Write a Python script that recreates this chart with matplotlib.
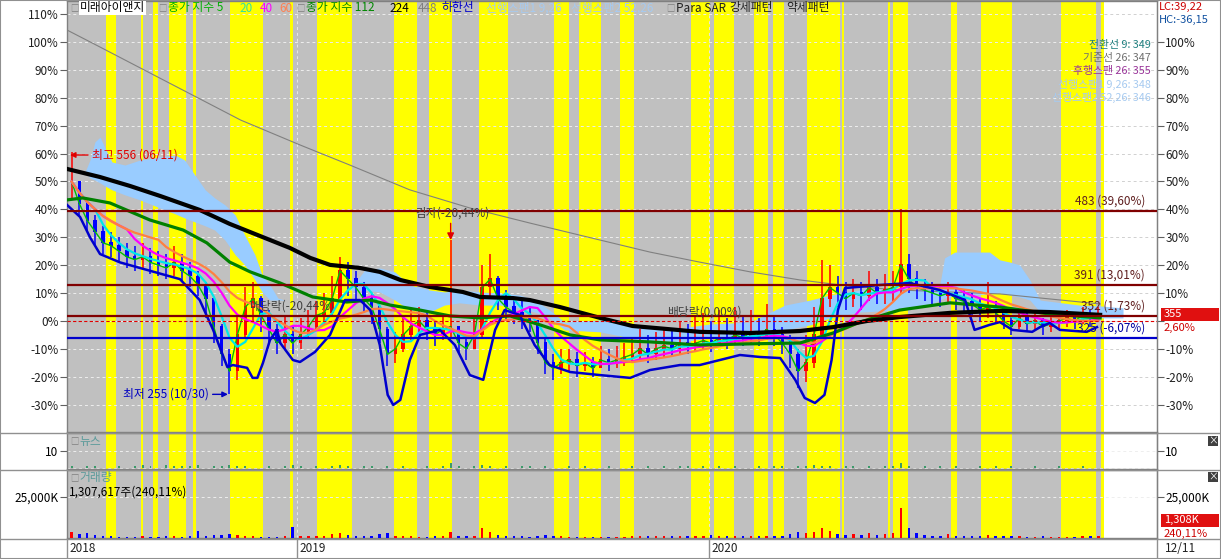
import matplotlib
matplotlib.use("Agg")
import matplotlib.pyplot as plt
import numpy as np
import pandas as pd
from matplotlib.lines import Line2D
from matplotlib.patches import Rectangle

plt.rcParams['font.family'] = ['Noto Sans CJK KR', 'DejaVu Sans']

W, H = 1221, 559
START = pd.Timestamp("2018-06-11")
BASE_PRICE = 346

# weekly candles, % against base price 346
week_dates = pd.date_range("2018-06-15", periods=131, freq="W-FRI")
close_pct = [50, 42, 36, 32, 28, 27, 25, 23, 22, 23,
             21, 20, 19, 21, 18, 16, 13, 8, -2, -12,
             -18, -5, 5, 8, 2, -3, -8, -5, -8, -5,
             -2, 2, 3, 8, 18, 15, 12, 8, 5, -3,
             -12, -10, -5, -2, 0, -3, -5, -3, -2, -8,
             -10, -5, 12, 15, 8, 5, 3, 2, 0, -8,
             -15, -17, -15, -14, -16, -15, -17, -14, -15, -14,
             -13, -12, -10, -12, -10, -9, -10, -8, -9, -8,
             -7, -8, -6, -7, -5, -6, -4, -6, -3, -5,
             -8, -12, -18, -15, -5, 8, 12, 10, 8, 10,
             9, 12, 10, 11, 12, 20, 15, 12, 11, 10,
             9, 10, 8, 7, 6, 4, 5, 3, 0, -2,
             1, -1, 0, -2, -1, 0, 1, 0, 2, 1,
             2.6]
high_pct = [60.7, 50, 43, 38, 34, 32, 30, 28, 27, 28,
            26, 25, 24, 27, 24, 21, 18, 14, 8, -1,
            -10, 2, 12, 14, 9, 4, -1, 2, -2, 1,
            4, 7, 10, 16, 23, 21, 18, 14, 10, 5,
            -2, -4, 1, 4, 5, 3, 0, 2, 29, -2,
            -5, 2, 20, 24, 16, 11, 8, 7, 5, 0,
            -6, -12, -10, -10, -11, -11, -13, -9, -10, -9,
            -8, -6, -3, -5, -4, -2, -3, 0, -1, 2,
            3, 0, 4, 1, 5, 2, 4, 1, 6, 2,
            -2, -5, -10, -5, 5, 22, 20, 16, 14, 15,
            14, 18, 15, 17, 18, 40, 24, 18, 15, 14,
            13, 14, 12, 11, 10, 8, 14, 7, 4, 2,
            4, 3, 3, 1, 2, 3, 4, 3, 5, 4,
            5]
low_pct = [44, 38, 32, 27, 24, 23, 21, 19, 18, 19,
           17, 16, 15, 16, 14, 12, 9, 1, -8, -16,
           -26.3, -21, -6, 0, -4, -8, -12, -10, -12, -10,
           -6, -3, -1, 2, 7, 9, 6, 3, -1, -8,
           -16, -15, -11, -7, -4, -7, -9, -7, -6, -12,
           -14, -10, -6, 8, 4, 0, -1, -3, -4, -12,
           -19, -21, -19, -18, -20, -18, -20, -17, -18, -17,
           -16, -15, -14, -15, -14, -13, -13, -12, -12, -11,
           -10, -11, -9, -10, -8, -9, -8, -9, -7, -9,
           -12, -17, -24, -22, -17, -7, 5, 5, 4, 5,
           4, 7, 6, 6, 7, 10, 10, 8, 7, 6,
           5, 6, 4, 3, 2, 0, 1, -1, -3, -5,
           -3, -4, -3, -5, -4, -3, -2, -3, -1, -2,
           0]
volume_k = [3500, 2500, 3000, 1800, 1200, 1000, 900, 800, 900, 1000,
            800, 900, 1000, 1200, 900, 1100, 4400, 1500, 1600, 1800,
            2500, 2000, 1500, 1200, 900, 800, 900, 1000, 7000, 1500,
            1200, 1000, 1500, 2500, 3000, 2000, 1500, 1200, 1500, 2500,
            3000, 1500, 1200, 1000, 900, 900, 1000, 1000, 3500, 1500,
            1200, 1500, 6000, 3500, 2000, 1500, 1200, 1000, 900, 1200,
            2000, 1500, 1000, 900, 800, 800, 900, 800, 800, 900,
            900, 1000, 1500, 1200, 1000, 1200, 1000, 1500, 1200, 1500,
            1200, 1800, 1500, 1200, 1500, 1200, 1000, 1200, 1500, 1200,
            1500, 2500, 3500, 3000, 3500, 6000, 4000, 2500, 2000, 2500,
            2000, 3000, 2000, 2500, 3000, 18000, 6000, 3000, 2000, 1500,
            1500, 2500, 1500, 1200, 1000, 1200, 2000, 1200, 1000, 1000,
            1000, 900, 900, 1000, 900, 800, 900, 800, 1000, 1000,
            1308]
news_cnt = [1, 0, 1, 1, 0, 0, 1, 0, 1, 2, 1, 0, 2, 1, 1, 1, 2, 0, 1, 1,
            2, 1, 1, 0, 0, 1, 0, 1, 2, 1, 0, 1, 0, 1, 2, 1, 0, 1, 1, 0,
            1, 0, 1, 0, 0, 1, 0, 1, 3, 1, 0, 1, 2, 1, 0, 1, 0, 1, 1, 0,
            1, 0, 0, 1, 0, 1, 0, 0, 1, 0, 0, 1, 0, 1, 0, 1, 0, 1, 1, 0,
            1, 0, 1, 0, 1, 0, 0, 1, 0, 1, 1, 0, 1, 1, 2, 1, 1, 0, 1, 1,
            0, 1, 0, 1, 1, 3, 1, 0, 1, 0, 1, 0, 1, 0, 0, 1, 0, 1, 0, 1,
            0, 0, 1, 0, 0, 1, 0, 0, 1, 0, 0]

# Para SAR strong-pattern periods (weeks since 2018-06-11)
strong_start = [4.94, 9.43, 10.89, 12.91, 15.95, 20.63, 28.2, 31.65, 41.39, 45.82,
                52.15, 61.65, 64.8, 70.0, 79.0, 81.9, 86.96, 89.37, 93.67, 98.1,
                103.9, 104.56, 111.9, 115.7, 125.8, 130.9]
strong_end = [6.18, 9.63, 11.52, 15.06, 16.33, 24.81, 28.63, 36.08, 44.3, 48.73,
              55.82, 63.5, 67.6, 71.77, 81.4, 84.4, 88.73, 90.76, 97.85, 98.35,
              104.2, 106.46, 112.66, 119.6, 130.25, 131.3]
data_end_wk = 131.3

# long moving averages (week, %)
ma112_wk = [0, 2.0, 5.44, 10.5, 14.7, 17.7, 20.6, 23.2, 27.0, 31.1, 35.4, 38.4, 40.9, 44.7,
            48.5, 52.3, 56.1, 59.9, 63.7, 67.5, 73.8, 80.1, 86.5, 92.8, 97.0, 100.4, 105.4,
            111.8, 118.1, 124.4, 130.8]
ma112_pct = [43.4, 44.1, 42.3, 36.2, 32.6, 28.0, 21.1, 17.6, 13.6, 8.6, 6.8, 7.5, 5.7, 3.9,
             1.8, 1.1, 1.8, -1.4, -5.0, -6.8, -7.5, -8.6, -8.2, -7.9, -4.3, -0.4, 3.9,
             6.5, 5.0, 2.5, 1.1]
ma224_wk = [0, 4.18, 7.97, 11.8, 16.8, 20.6, 24.4, 28.2, 30.8, 33.3, 37.1, 39.6, 42.2, 45.9,
            50.1, 52.3, 56.5, 58.6, 62.4, 67.5, 71.6, 80.1, 86.5, 92.8, 97.0, 101.3, 105.4,
            111.8, 118.1, 124.4, 130.8]
ma224_pct = [54.5, 51.6, 48.4, 44.8, 39.8, 34.8, 30.5, 26.2, 22.6, 20.1, 19.0, 17.6, 14.7, 12.2,
             10.4, 8.6, 8.2, 7.5, 5.0, 1.1, -1.8, -3.9, -4.3, -3.6, -2.2, 0.0, 1.4,
             2.9, 3.6, 3.2, 2.2]
ma448_wk = [0, 4.18, 10.5, 17.1, 22.0, 29.5, 35.8, 43.4, 51.0, 58.6, 67.5, 73.8, 80.1, 86.5,
            92.8, 99.1, 105.4, 111.8, 118.1, 124.4, 130.8]
ma448_pct = [104.3, 98.2, 88.9, 79.2, 72.0, 63.1, 55.9, 47.0, 40.5, 35.1, 29.0, 24.7, 21.1, 17.6,
             14.7, 12.5, 11.1, 10.4, 9.7, 7.9, 6.1]

# lower band (week, %)
low_band_wk = [0, 1.65, 2.91, 4.18, 6.71, 10.5, 14.3, 16.8, 18.5, 20.3, 21.0, 22.8, 23.5, 24.1,
               24.8, 25.7, 26.6, 27.0, 28.6, 29.5, 31.4, 33.3, 35.2, 37.1, 38.4, 39.6, 40.6,
               41.3, 42.2, 43.4, 44.7, 47.2, 49.1, 51.0, 52.7, 54.2, 55.4, 57.3, 59.2, 61.1,
               63.7, 67.5, 71.3, 73.8, 77.6, 80.1, 85.2, 87.7, 90.3, 92.2, 93.4, 94.7, 95.9,
               96.8, 97.6, 98.5, 102.9, 106.7, 110.5, 113.7, 114.9, 116.8, 118.1, 119.7,
               122.2, 123.2, 124.4, 125.7, 129.1, 130.4]
low_band_pct = [41.6, 37.3, 30.0, 24.0, 21.0, 18.0, 15.0, 7.5, -3.2, -16.5, -15.8, -16.8, -20.4,
                -20.4, -15.1, -6.8, -3.2, -7.9, -14.0, -14.7, -11.1, -5.0, 7.5, 7.5, 3.9, -8.6,
                -26.5, -30.1, -28.3, -14.0, -5.0, -3.2, -8.6, -19.4, -21.1, -3.2, 3.9, 2.2,
                -8.6, -15.8, -18.3, -19.4, -20.4, -17.6, -15.8, -15.8, -12.2, -12.9, -13.3,
                -21.1, -27.6, -29.4, -26.5, -14.0, 3.9, 11.8, 12.9, 13.6, 11.1, 7.5, -3.2,
                -1.4, -0.4, -3.2, -3.9, -2.2, -0.7, -3.2, -3.9, -2.2]

# leading span cloud (week, upper %, lower %)
cloud_wk = [2.28, 2.91, 3.54, 4.18, 4.81, 5.70, 7.34, 9.24, 11.8, 13.7, 14.9, 16.2, 17.5, 18.7,
            20.0, 21.3, 22.5, 23.8, 24.7, 25.7, 26.7, 27.6, 35.8, 37.7, 39.6, 41.5, 43.4,
            45.9, 47.8, 49.7, 52.3, 54.8, 57.3, 59.2, 61.1, 63.0, 67.5, 72.5, 77.6, 81.4,
            86.5, 90.9, 94.1, 96.6, 100.4, 105.4, 109.2, 110.5, 111.1, 112.4, 116.8, 118.1,
            119.4, 120.6, 121.9, 123.2, 128.2, 130.8, 133.7]
cloud_hi = [53.4, 57.7, 64.2, 65.9, 62.0, 57.0, 55.9, 57.7, 58.8, 59.5, 57.7, 52.3, 47.0, 44.1,
            41.6, 38.0, 30.8, 23.7, 16.5, 12.9, 8.2, 7.5, 11.1, 18.3, 19.0, 17.6, 12.9,
            11.1, 10.4, 11.1, 10.4, 10.0, 9.3, 7.5, 3.9, -0.4, 0.4, -1.4, -2.5, -1.1,
            -0.4, 5.7, 7.5, 9.3, 11.1, 11.8, 12.9, 12.9, 22.6, 24.7, 24.7, 21.9,
            21.1, 20.1, 14.7, 7.5, 5.7, 5.4, 4.7]
cloud_lo = [53.4, 51.3, 50.5, 49.5, 48.4, 47.0, 45.2, 43.4, 40.5, 38.4, 36.9, 35.5, 34.1, 32.6,
            29.0, 23.7, 20.1, 14.7, 10.4, 7.5, 7.5, 7.5, 11.1, 11.1, 10.4, 7.5, 3.9,
            3.2, 5.7, 6.5, 5.7, 5.7, 4.7, 3.2, 1.1, -3.2, -3.9, -6.8, -7.5, -6.1,
            -5.4, -3.2, -1.4, 1.1, 3.2, 3.9, 5.7, 7.5, 8.2, 9.0, 9.7, 10.0,
            9.3, 8.6, 7.5, 3.2, 1.8, 1.1, 1.1]

# horizontal price levels
red_levels = [483, 391, 352]
blue_levels = [325]

# event markers: (candle index, label)
event_idx = [48]
event_text = ["감자(-20,44%)"]

GRAY_BG = "#C0C0C0"
YELLOW = "#FFFF00"
RED = "#E00000"
DARKRED = "#800000"


def fx(px):
    return px / W


def fy(py):
    return 1 - py / H


fig = plt.figure(figsize=(W / 100, H / 100), dpi=100)
fig.patch.set_facecolor("white")

L, R = 67, 1157
ax = fig.add_axes([fx(L), fy(432), fx(R) - fx(L), fy(1) - fy(432)])
axn = fig.add_axes([fx(L), fy(469), fx(R) - fx(L), fy(433) - fy(469)])
axv = fig.add_axes([fx(L), fy(538), fx(R) - fx(L), fy(470) - fy(538)])

wk = np.asarray((week_dates - START).days) / 7.0
x_max = 138.0

for a in (ax, axn, axv):
    a.set_facecolor("white")
    a.set_xlim(0, x_max)
    a.axvspan(0, data_end_wk, color=GRAY_BG, zorder=0, lw=0)
    for s0, s1 in zip(strong_start, strong_end):
        a.axvspan(s0, s1, color=YELLOW, zorder=0.1, lw=0)
    for sp in a.spines.values():
        sp.set_color("#808080")
        sp.set_linewidth(1)
    a.set_xticks([])

# year dividers (dashed)
year_wk = [(pd.Timestamp(f"{y}-01-01") - START).days / 7 for y in (2019, 2020)]
for a in (ax, axn, axv):
    for yw in year_wk:
        a.axvline(yw, color="#E8E8E8", lw=0.7, ls=(0, (3, 3)), zorder=0.5)

# ---- main panel ----
ax.set_ylim(-39.8, 114.7)
grid_levels = np.arange(-30, 111, 10)
ax.hlines(grid_levels, 0, data_end_wk, colors="#EEEEEE", lw=0.7, linestyles=(0, (3, 3)), zorder=0.5)
ax.hlines(grid_levels, data_end_wk, x_max, colors="#D0D0D0", lw=0.7, linestyles=(0, (3, 3)), zorder=0.5)

ax.fill_between(cloud_wk, cloud_lo, cloud_hi, color="#99CCFF", lw=0, zorder=1)
ax.plot(ma448_wk, ma448_pct, color="#808080", lw=0.8, zorder=2)

close = np.array(close_pct, dtype=float)
open_ = np.r_[close[0], close[:-1]]
up = close >= open_
cols = np.where(up, "#FF0000", "#0000FF")
ax.vlines(wk, low_pct, high_pct, colors=cols, lw=1.1, zorder=3)
ax.bar(wk, np.abs(close - open_) + 0.3, bottom=np.minimum(close, open_), width=0.45,
       color=cols, lw=0, zorder=3)

s = pd.Series(close)
ax.plot(wk, s, color="#00C000", lw=1, zorder=4)
ax.plot(wk, s.rolling(4, min_periods=1).mean(), color="#00E8E8", lw=1.6, zorder=4)
ax.plot(wk, s.rolling(8, min_periods=1).mean(), color="#FF00FF", lw=1.6, zorder=4)
ax.plot(wk, s.rolling(12, min_periods=1).mean(), color="#FF8040", lw=1.6, zorder=4)
ax.plot(ma112_wk, ma112_pct, color="#008000", lw=2.3, zorder=5)
ax.plot(low_band_wk, low_band_pct, color="#0000CC", lw=1.8, zorder=5)
ax.plot(ma224_wk, ma224_pct, color="black", lw=3, zorder=6)

# price levels
ax.axhline(0, color=RED, lw=0.8, ls=(0, (3, 2)), zorder=6)
for p in red_levels:
    v = (p / BASE_PRICE - 1) * 100
    ax.axhline(v, color=DARKRED, lw=1.6, zorder=7)
    ax.text(136.5, v + 1.2, f"{p} ({v:.2f}%)".replace(".", ","), ha="right", va="bottom",
            fontsize=8.5, color="#602020", zorder=8)
for p in blue_levels:
    v = (p / BASE_PRICE - 1) * 100
    ax.axhline(v, color="#0000CC", lw=1.6, zorder=7)
    ax.text(136.5, v + 1.2, f"{p} ({v:.2f}%)".replace(".", ","), ha="right", va="bottom",
            fontsize=8.5, color="#0000A0", zorder=8)

# highest / lowest markers
i_hi = int(np.argmax(high_pct))
i_lo = int(np.argmin(low_pct))
hi_price = round(BASE_PRICE * (1 + high_pct[i_hi] / 100))
lo_price = round(BASE_PRICE * (1 + low_pct[i_lo] / 100))
ax.annotate(f"최고 {hi_price} ({week_dates[i_hi] - pd.Timedelta(days=4):%m/%d})",
            xy=(wk[i_hi] - 0.2, high_pct[i_hi] - 1.2), xytext=(16, 0), textcoords="offset points",
            ha="left", va="center", fontsize=8.5, color=RED, zorder=9,
            arrowprops=dict(arrowstyle="-|>", color=RED, lw=1, mutation_scale=8, shrinkA=1, shrinkB=0))
ax.annotate(f"최저 {lo_price} ({week_dates[i_lo] - pd.Timedelta(days=3):%m/%d})",
            xy=(wk[i_lo] - 0.2, low_pct[i_lo]), xytext=(-14, 0), textcoords="offset points",
            ha="right", va="center", fontsize=8.5, color="#0000C0", zorder=9,
            arrowprops=dict(arrowstyle="-|>", color="#0000C0", lw=1, mutation_scale=8, shrinkA=1, shrinkB=0))

for i, t in zip(event_idx, event_text):
    ax.annotate("", xy=(wk[i], high_pct[i]), xytext=(wk[i], high_pct[i] + 6),
                arrowprops=dict(arrowstyle="-|>", color=RED, lw=1, mutation_scale=10, shrinkA=0, shrinkB=0),
                zorder=9)
    ax.text(wk[i] + 0.3, high_pct[i] + 7.2, t, ha="center", va="bottom", fontsize=8.5,
            color="#404040", zorder=9)
ax.text(23.0, 5.5, "배당락(-20,44%)", ha="left", va="center", fontsize=8.5, color="#404040", zorder=5.5)
ax.text(76.0, 3.3, "배당락(0,00%)", ha="left", va="center", fontsize=8.5, color="#404040", zorder=9)

ax.set_yticks(grid_levels)
ax.set_yticklabels([f"{v}%" for v in grid_levels], fontsize=8.5)
ax.tick_params(axis="y", length=5, color="#606060", pad=1, labelcolor="#202020")
right_levels = np.arange(-30, 101, 10)
sec = ax.secondary_yaxis("right")
sec.set_yticks(right_levels)
sec.set_yticklabels(["" if v == 0 else f"{v}%" for v in right_levels], fontsize=8.5)
sec.tick_params(axis="y", length=5, color="#606060", pad=1, labelcolor="#202020")
sec.spines["right"].set_color("#808080")

# ---- news panel ----
axn.set_ylim(-0.6, 20.6)
axn.hlines([0, 10], 0, x_max, colors="#EEEEEE", lw=0.7, linestyles=(0, (3, 3)), zorder=0.5)
axn.bar(wk, news_cnt, width=0.25, color="#3C9A6A", zorder=3)
axn.set_yticks([10])
axn.set_yticklabels(["10"], fontsize=8.5)
axn.tick_params(axis="y", length=5, color="#606060", pad=1)
secn = axn.secondary_yaxis("right")
secn.set_yticks([10])
secn.set_yticklabels(["10"], fontsize=8.5)
secn.tick_params(axis="y", length=5, color="#606060", pad=1)

# ---- volume panel ----
axv.set_ylim(0, 41460)
axv.hlines([0, 25000], 0, x_max, colors="#EEEEEE", lw=0.7, linestyles=(0, (3, 3)), zorder=0.5)
axv.bar(wk, volume_k, width=0.3, color=cols, zorder=3)
axv.set_yticks([25000])
axv.set_yticklabels(["25,000K"], fontsize=8.5)
axv.tick_params(axis="y", length=5, color="#606060", pad=1)
secv = axv.secondary_yaxis("right")
secv.set_yticks([25000])
secv.set_yticklabels(["25,000K"], fontsize=8.5)
secv.tick_params(axis="y", length=5, color="#606060", pad=1)


def ftext(px, py, s, **kw):
    kw.setdefault("fontsize", 8.5)
    kw.setdefault("va", "center")
    return fig.text(fx(px), fy(py), s, **kw)


# top legend
legend_items = [
    (70, "□", "#808080"), (80, "미래아이앤지", "black"),
    (158, "□", "#808080"), (168, "종가 지수 5", "#00B000"), (239, "20", "#33E0A0"),
    (260, "40", "#FF00FF"), (279, "60", "#FF7F50"),
    (296, "□", "#808080"), (306, "종가 지수 112", "#008800"), (389, "224", "black"),
    (418, "448", "#808080"), (441, "하한선", "#0000CC"),
    (486, "선행스팬1 9,26", "#A6CAF0"), (571, "선행스팬2 52,26", "#A6CAF0"),
    (666, "□", "#808080"), (676, "Para SAR", "#202020"), (729, "강세패턴", "#202020"),
    (786, "약세패턴", "#202020"),
]
for px, t, c in legend_items:
    kw = {}
    if t == "미래아이앤지":
        kw["bbox"] = dict(facecolor="white", edgecolor="none", pad=0.5)
    if t == "□":
        kw["fontsize"] = 6
    ftext(px, 8, t, color=c, **kw)

# ichimoku values (right top)
ichi = [("전환선 9: 349", "#208080"), ("기준선 26: 347", "#707070"),
        ("후행스팬 26: 355", "#993399"), ("선행스팬1 9,26: 348", "#A6CAF0"),
        ("선행스팬2 52,26: 346", "#A6CAF0")]
for k, (t, c) in enumerate(ichi):
    ftext(1151, 45 + 13 * k, t, color=c, ha="right", fontsize=7.8)

ftext(1159, 7, "LC:39,22", color="#CC0000", fontsize=8)
ftext(1159, 20, "HC:-36,15", color="#1050A0", fontsize=8)

# current price box
fig.patches.append(Rectangle((fx(1161), fy(321)), fx(58), 13 / H, transform=fig.transFigure,
                             facecolor="#E01010", edgecolor="none", zorder=5))
ftext(1164, 314, f"{BASE_PRICE * (1 + close_pct[-1] / 100):.0f}", color="white", zorder=6, fontsize=8)
ftext(1164, 328, f"{close_pct[-1]:.2f}%".replace(".", ","), color="#CC0000", fontsize=8)

# news / volume labels
ftext(70, 441, "□", color="#808080", fontsize=6)
ftext(79, 441, "뉴스", color="#5A9A9A")
ftext(70, 478, "□", color="#808080", fontsize=6)
ftext(79, 478, "거래량", color="#5A9A9A")
ftext(69, 492, "1,307,617주(240,11%)", color="black")
fig.patches.append(Rectangle((fx(1161), fy(527)), fx(58), 13 / H, transform=fig.transFigure,
                             facecolor="#E01010", edgecolor="none", zorder=5))
ftext(1164, 520, f"{volume_k[-1]:,}K", color="white", zorder=6, fontsize=8)
ftext(1164, 534, "240,11%", color="#CC0000", fontsize=8)

# close buttons
for py in (441, 477):
    fig.patches.append(Rectangle((fx(1208), fy(py + 5)), fx(10), 10 / H, transform=fig.transFigure,
                                 facecolor="#404040", edgecolor="none"))
    ftext(1213, py, "×", color="white", ha="center", fontsize=7)

# frame and separators
for py in (432.5, 469.5, 539):
    fig.add_artist(Line2D([0, 1], [fy(py), fy(py)], color="#909090", lw=1))
for px in (L, R):
    fig.add_artist(Line2D([fx(px), fx(px)], [fy(540), fy(559)], color="#909090", lw=1))
fig.add_artist(Rectangle((0, 0), 1, 1, transform=fig.transFigure, fill=False,
                         edgecolor="#909090", lw=1.5))

# date strip
ftext(69, 549, "2018", color="#202020")
for y, yw in zip((2019, 2020), year_wk):
    px = L + yw / x_max * (R - L)
    fig.add_artist(Line2D([fx(px), fx(px)], [fy(540), fy(559)], color="#909090", lw=1))
    ftext(px + 2, 549, str(y), color="#202020")
ftext(1165, 549, f"{week_dates[-1]:%m/%d}", color="#202020")

fig.savefig("out.png", dpi=100)
